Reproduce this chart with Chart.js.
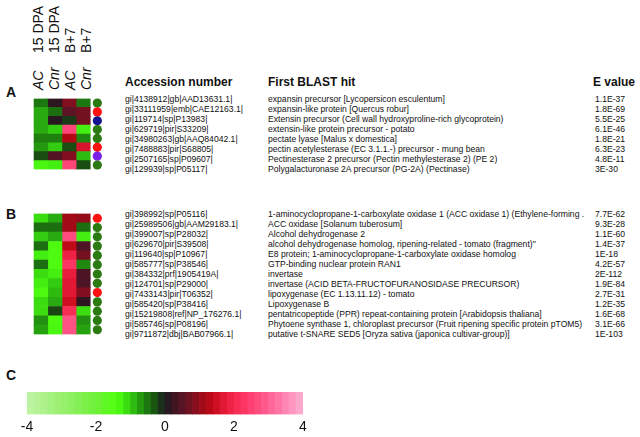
<!DOCTYPE html>
<html><head><meta charset="utf-8">
<script src="https://cdn.jsdelivr.net/npm/chart.js@4"></script>
<style>
body{margin:0;background:#fff;font-family:"Liberation Sans",Arial,sans-serif;color:#111}
#page{position:relative;width:640px;height:437px;overflow:hidden}
.t{position:absolute;white-space:nowrap}
.row{font-size:8.6px;line-height:10px;height:10px}
.hd{font-weight:bold;font-size:12px;line-height:14px}
.pl{font-weight:bold;font-size:14px;line-height:14px}
.cl{font-size:14px;line-height:14px;transform:rotate(-90deg);transform-origin:0 0}
.it{font-style:italic}
canvas{position:absolute}
</style></head><body>
<div id="page">
  <canvas id="heatA" width="80" height="80" style="left:29px;top:94px"></canvas>
  <canvas id="heatB" width="80" height="130" style="left:29px;top:209px"></canvas>
  <canvas id="scaleBar" width="300" height="45" style="left:15px;top:392px"></canvas>
</div>
<script>
/* ===== DATA ===== */
const samples=["AC","Cnr","AC","Cnr"];
const stages=["15 DPA","15 DPA","B+7","B+7"];

const accA=["gi|4138912|gb|AAD13631.1|","gi|33111959|emb|CAE12163.1|","gi|119714|sp|P13983|","gi|629719|pir|S33209|",
  "gi|34980263|gb|AAQ84042.1|","gi|7488883|pir|S68805|","gi|2507165|sp|P09607|","gi|129939|sp|P05117|"];
const hitA=["expansin precursor [Lycopersicon esculentum]","expansin-like protein [Quercus robur]",
  "Extensin precursor (Cell wall hydroxyproline-rich glycoprotein)","extensin-like protein precursor - potato",
  "pectate lyase [Malus x domestica]","pectin acetylesterase (EC 3.1.1.-) precursor - mung bean",
  "Pectinesterase 2 precursor (Pectin methylesterase 2) (PE 2)","Polygalacturonase 2A precursor (PG-2A) (Pectinase)"];
const evalA=["1.1E-37","1.8E-69","5.5E-25","6.1E-46","1.8E-21","6.3E-23","4.8E-11","3E-30"];
const valsA=[
  [-0.5,0.15,0.85,-0.5],
  [-0.8,-0.45,0.55,0.75],
  [-0.8,0.1,-0.15,0.75],
  [-0.8,-1.0,2.6,-1.2],
  [-0.55,-0.55,1.25,-0.6],
  [-0.7,-1.0,-0.25,1.6],
  [-0.25,0.45,0.85,-0.9],
  [-1.3,-1.2,2.6,-0.25]];
const dotA=["green","red","blue","green","green","red","purple","green"];

const accB=["gi|398992|sp|P05116|","gi|25989506|gb|AAM29183.1|","gi|399007|sp|P28032|","gi|629670|pir|S39508|",
  "gi|119640|sp|P10967|","gi|585777|sp|P38546|","gi|384332|prf|1905419A|","gi|124701|sp|P29000|",
  "gi|7433143|pir|T06352|","gi|585420|sp|P38416|","gi|15219808|ref|NP_176276.1|","gi|585746|sp|P08196|",
  "gi|9711872|dbj|BAB07966.1|"];
const hitB=["1-aminocyclopropane-1-carboxylate oxidase 1 (ACC oxidase 1) (Ethylene-forming .",
  "ACC oxidase [Solanum tuberosum]","Alcohol dehydrogenase 2",
  "alcohol dehydrogenase homolog, ripening-related - tomato  (fragment)\"",
  "E8 protein; 1-aminocyclopropane-1-carboxylate oxidase homolog","GTP-binding nuclear protein RAN1",
  "invertase","invertase (ACID BETA-FRUCTOFURANOSIDASE PRECURSOR)","lipoxygenase (EC 1.13.11.12) - tomato",
  "Lipoxygenase B","pentatricopeptide (PPR) repeat-containing protein [Arabidopsis thaliana]",
  "Phytoene synthase 1, chloroplast precursor (Fruit ripening specific protein pTOM5)",
  "putative t-SNARE SED5 [Oryza sativa (japonica cultivar-group)]"];
const evalB=["7.7E-62","9.3E-28","1.1E-60","1.4E-37","1E-18","4.2E-57","2E-112","1.9E-84","2.7E-31","1.2E-35","1.6E-68","3.1E-66","1E-103"];
const valsB=[
  [-1.1,-0.8,1.1,1.0],
  [-0.45,-0.45,1.1,-0.45],
  [-1.0,-0.8,2.7,-1.2],
  [-0.45,-1.35,1.35,0.4],
  [-1.2,-1.35,1.9,0.75],
  [-0.45,-1.35,2.3,-0.6],
  [-1.1,-1.2,1.8,0.4],
  [-1.2,-1.0,1.7,0.4],
  [-1.35,-0.9,1.7,0.85],
  [-1.1,-0.8,1.5,0.15],
  [-1.1,-0.2,2.1,-1.1],
  [-0.65,-1.35,2.8,-0.65],
  [-0.75,-1.3,2.8,-0.75]];
const dotB=["red","green","green","green","green","green","green","green","red","green","green","green","green"];

/* colour scale, stepped bins of the key */
const stopVals=[-4,-3,-2,-1.4,-1.2,-1,-0.8,-0.6,-0.4,-0.2,0,0.2,0.4,0.6,0.8,1,1.2,1.4,1.6,1.8,2,2.4,3,3.5,4];
const stopCols=["#c0f4a6","#9af070","#70f03a","#50ff10","#44ee10","#33cc10","#28aa10","#208810","#1a6610","#1a4412",
  "#1c1c24","#34141e","#4c1424","#621424","#7a1020","#940c1a","#ae0814","#c40a18","#d8142c","#e81c3c",
  "#f6284e","#ff3a6c","#ff5e92","#ff86b4","#ffb0d4"];
const keyBins=[-3.9,-3.7,-3.5,-3.3,-3.1,-2.9,-2.7,-2.5,-2.3,-2.1,-1.9,-1.7,-1.5,-1.3,-1.1,-0.9,-0.7,-0.5,-0.3,-0.1,
  0.1,0.3,0.5,0.7,0.9,1.1,1.3,1.5,1.7,1.9,2.1,2.3,2.5,2.7,2.9,3.1,3.3,3.5,3.7,3.9];
const dotColors={green:"#2b7a12",red:"#ff1111",blue:"#141490",purple:"#7a22e6"};

/* ===== UTILS ===== */
function hex(c){return [1,3,5].map(i=>parseInt(c.substr(i,2),16))}
function colorOf(v){
  v=Math.max(-4,Math.min(4,v));
  let i=0;
  while(i<stopVals.length-2&&v>stopVals[i+1])i++;
  const t=(v-stopVals[i])/(stopVals[i+1]-stopVals[i]);
  const a=hex(stopCols[i]),b=hex(stopCols[i+1]);
  return "rgb("+a.map((x,k)=>Math.round(x+(b[k]-x)*t)).join(",")+")";
}
function txt(cls,s,x,y){
  const d=document.createElement("div");
  d.className="t "+cls;d.textContent=s;
  d.style.left=x+"px";d.style.top=y+"px";
  document.getElementById("page").appendChild(d);
  return d;
}

Chart.defaults.font.family='"Liberation Sans",Arial,sans-serif';
Chart.defaults.color="#111";

/* ===== HEATMAPS ===== */
function heatmap(id,vals,dots){
  const sets=samples.map((s,c)=>({
    type:"bar",
    data:vals.map(()=>[c,c+1]),
    backgroundColor:vals.map(r=>colorOf(r[c])),
    borderWidth:0,grouped:false,barPercentage:1,categoryPercentage:1
  }));
  sets.push({
    type:"scatter",
    data:dots.map((d,i)=>({x:4.5,y:i})),
    pointBackgroundColor:dots.map(d=>dotColors[d]),
    pointBorderWidth:0,pointRadius:4.6
  });
  new Chart(document.getElementById(id),{
    type:"bar",
    data:{labels:vals.map((_,i)=>i),datasets:sets},
    options:{
      indexAxis:"y",responsive:false,animation:false,
      layout:{padding:0},
      plugins:{legend:{display:false},tooltip:{enabled:false}},
      scales:{
        x:{type:"linear",min:0,max:5,display:false},
        y:{display:false,offset:true}
      }
    }
  });
}
heatmap("heatA",valsA,dotA);
heatmap("heatB",valsB,dotB);

/* ===== COLOUR KEY ===== */
new Chart(document.getElementById("scaleBar"),{
  type:"bar",
  data:{datasets:[{
    data:keyBins.map(v=>({x:v,y:1})),
    backgroundColor:keyBins.map(colorOf),
    borderWidth:0,barPercentage:1,categoryPercentage:1
  }]},
  options:{
    responsive:false,animation:false,
    layout:{padding:{left:12,right:12,top:0,bottom:0}},
    plugins:{legend:{display:false},tooltip:{enabled:false}},
    scales:{
      x:{type:"linear",min:-4,max:4,offset:false,
        grid:{display:false,drawTicks:false},border:{display:false},
        ticks:{stepSize:2,padding:4,color:"#111",font:{size:14}}},
      y:{min:0,max:1,display:false}
    }
  }
});

/* ===== TEXT ===== */
const colX=[37,53,69,85];
samples.forEach((s,i)=>txt("cl it",s,colX[i]-6,90));
stages.forEach((s,i)=>txt("cl",s,colX[i]-6,53));

txt("pl","A",6,85);
txt("pl","B",6,207);
txt("pl","C",6,368);

txt("hd","Accession number",125,75);
txt("hd","First BLAST hit",268,75);
txt("hd","E value",593,75);

function table(acc,hit,ev,top){
  acc.forEach((a,i)=>{
    txt("row",a,125,top+i*10);
    txt("row",hit[i],268,top+i*10);
    txt("row",ev[i],595,top+i*10);
  });
}
table(accA,hitA,evalA,94);
table(accB,hitB,evalB,209);
</script>
</body></html>
